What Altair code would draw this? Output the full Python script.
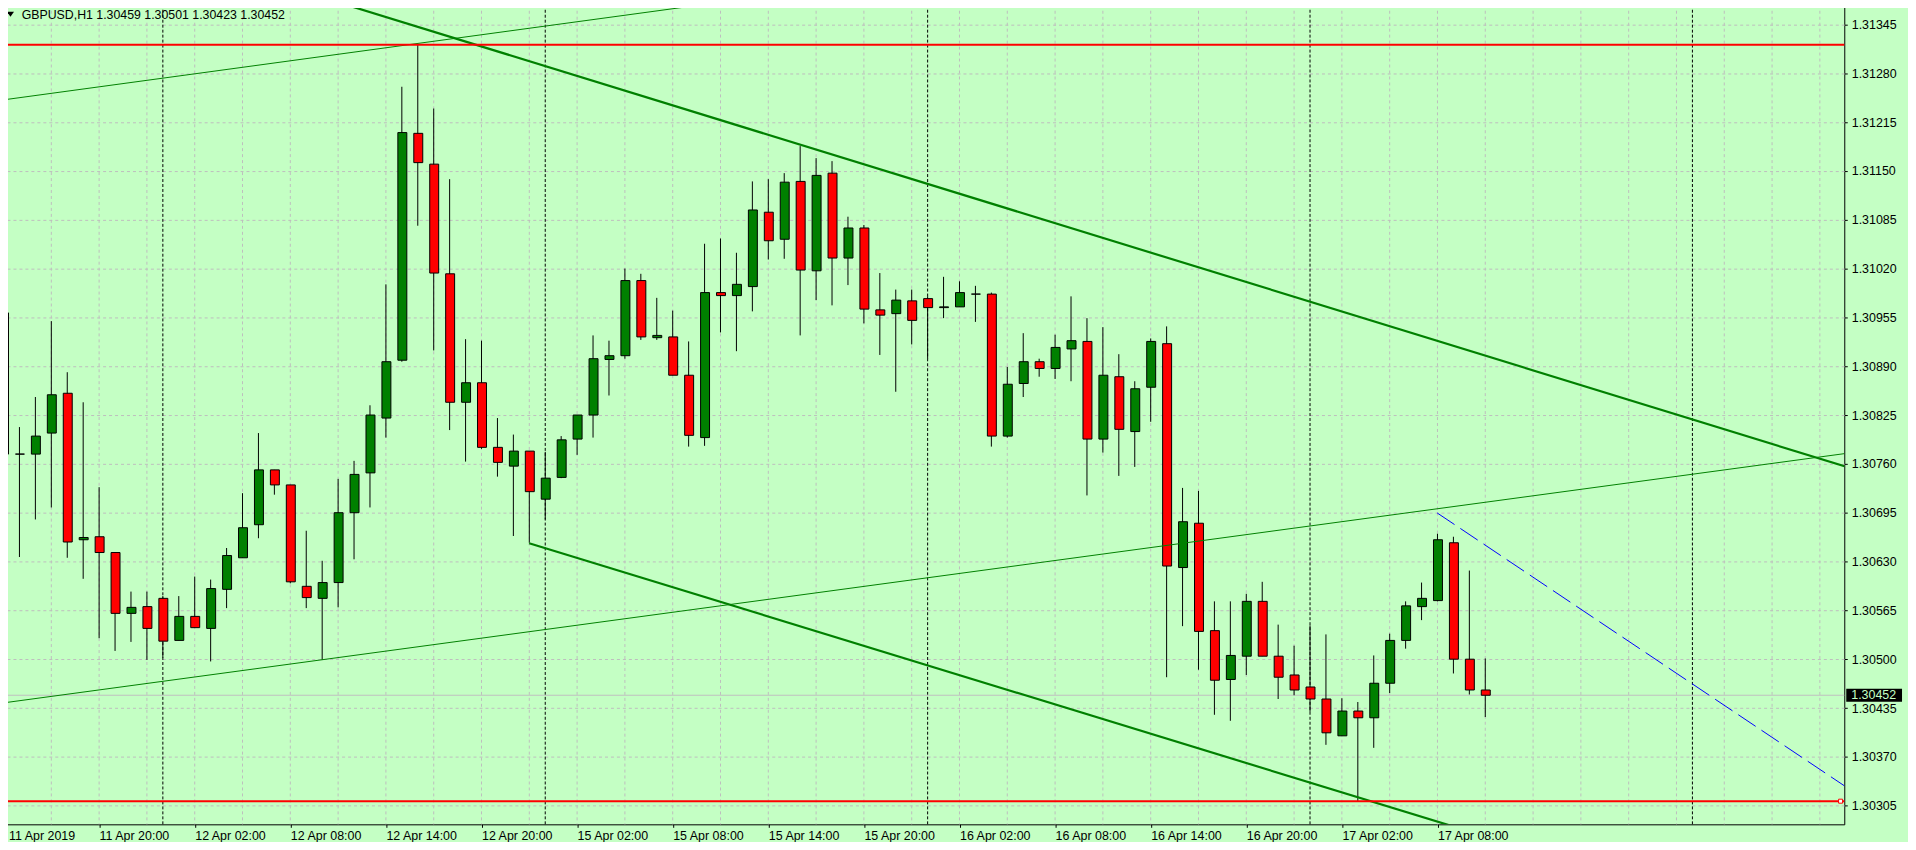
import json
import altair as alt
import pandas as pd

# ---------------- data ----------------
# H1 bars, bar 0 = 11 Apr 2019 14:00 (weekend bars skipped)
symbol = "GBPUSD"
timeframe = "H1"

opens = [1.30961, 1.30773, 1.30773, 1.30801, 1.30854, 1.30659, 1.30663, 1.30642, 1.30561, 1.30570,
         1.30581, 1.30525, 1.30557, 1.30541, 1.30593, 1.30635, 1.30679, 1.30752, 1.30732, 1.30597,
         1.30581, 1.30602, 1.30695, 1.30748, 1.30821, 1.30898, 1.31200, 1.31159, 1.31013, 1.30842,
         1.30868, 1.30782, 1.30757, 1.30777, 1.30713, 1.30742, 1.30793, 1.30825, 1.30899, 1.30904,
         1.31004, 1.30928, 1.30929, 1.30878, 1.30795, 1.30988, 1.30984, 1.30996, 1.31095, 1.31059,
         1.31136, 1.31017, 1.31147, 1.31034, 1.31074, 1.30965, 1.30960, 1.30977, 1.30980, 1.30968,
         1.30969, 1.30986, 1.30986, 1.30797, 1.30867, 1.30896, 1.30887, 1.30913, 1.30923, 1.30793,
         1.30876, 1.30803, 1.30862, 1.30920, 1.30622, 1.30681, 1.30538, 1.30473, 1.30504, 1.30577,
         1.30504, 1.30479, 1.30463, 1.30447, 1.30398, 1.30431, 1.30422, 1.30468, 1.30525, 1.30570,
         1.30578, 1.30655, 1.30500, 1.30459]
highs = [1.30980, 1.30809, 1.30849, 1.30950, 1.30882, 1.30842, 1.30729, 1.30642, 1.30590, 1.30590,
         1.30584, 1.30584, 1.30610, 1.30606, 1.30648, 1.30721, 1.30801, 1.30752, 1.30732, 1.30671,
         1.30631, 1.30740, 1.30764, 1.30838, 1.30999, 1.31262, 1.31318, 1.31233, 1.31139, 1.30926,
         1.30924, 1.30821, 1.30799, 1.30777, 1.30776, 1.30797, 1.30825, 1.30931, 1.30924, 1.31020,
         1.31013, 1.30981, 1.30964, 1.30923, 1.31053, 1.31060, 1.31041, 1.31136, 1.31139, 1.31147,
         1.31183, 1.31167, 1.31163, 1.31089, 1.31078, 1.31014, 1.30992, 1.30992, 1.30983, 1.31009,
         1.31003, 1.30997, 1.30988, 1.30889, 1.30934, 1.30900, 1.30932, 1.30983, 1.30954, 1.30942,
         1.30906, 1.30870, 1.30927, 1.30943, 1.30728, 1.30724, 1.30577, 1.30577, 1.30587, 1.30603,
         1.30546, 1.30518, 1.30545, 1.30533, 1.30448, 1.30443, 1.30505, 1.30534, 1.30577, 1.30602,
         1.30667, 1.30663, 1.30618, 1.30501]
lows = [1.30743, 1.30636, 1.30686, 1.30702, 1.30635, 1.30607, 1.30528, 1.30511, 1.30523, 1.30499,
        1.30502, 1.30525, 1.30542, 1.30497, 1.30568, 1.30635, 1.30661, 1.30719, 1.30601, 1.30568,
        1.30499, 1.30569, 1.30633, 1.30702, 1.30795, 1.30896, 1.31077, 1.30911, 1.30805, 1.30763,
        1.30780, 1.30743, 1.30664, 1.30655, 1.30686, 1.30741, 1.30772, 1.30795, 1.30851, 1.30900,
        1.30925, 1.30925, 1.30878, 1.30783, 1.30784, 1.30935, 1.30910, 1.30963, 1.31032, 1.31033,
        1.30931, 1.30978, 1.30971, 1.30998, 1.30947, 1.30905, 1.30856, 1.30919, 1.30900, 1.30954,
        1.30969, 1.30949, 1.30783, 1.30795, 1.30849, 1.30876, 1.30873, 1.30870, 1.30718, 1.30775,
        1.30744, 1.30756, 1.30816, 1.30476, 1.30544, 1.30486, 1.30426, 1.30418, 1.30479, 1.30504,
        1.30447, 1.30452, 1.30430, 1.30386, 1.30398, 1.30311, 1.30382, 1.30455, 1.30514, 1.30552,
        1.30577, 1.30481, 1.30453, 1.30423]
closes = [1.30773, 1.30773, 1.30797, 1.30852, 1.30656, 1.30662, 1.30642, 1.30561, 1.30569, 1.30541,
          1.30524, 1.30557, 1.30542, 1.30594, 1.30638, 1.30675, 1.30752, 1.30732, 1.30603, 1.30582,
          1.30602, 1.30695, 1.30746, 1.30825, 1.30896, 1.31201, 1.31161, 1.31014, 1.30842, 1.30868,
          1.30782, 1.30762, 1.30777, 1.30723, 1.30741, 1.30792, 1.30825, 1.30900, 1.30904, 1.31004,
          1.30929, 1.30931, 1.30878, 1.30798, 1.30988, 1.30984, 1.30999, 1.31098, 1.31057, 1.31135,
          1.31018, 1.31144, 1.31034, 1.31074, 1.30966, 1.30958, 1.30978, 1.30951, 1.30968, 1.30969,
          1.30988, 1.30986, 1.30797, 1.30866, 1.30896, 1.30887, 1.30915, 1.30924, 1.30793, 1.30878,
          1.30806, 1.30860, 1.30923, 1.30624, 1.30683, 1.30537, 1.30472, 1.30505, 1.30577, 1.30504,
          1.30476, 1.30459, 1.30447, 1.30402, 1.30431, 1.30422, 1.30468, 1.30525, 1.30571, 1.30581,
          1.30659, 1.30500, 1.30459, 1.30452]

# x-axis labels (bar index -> text)
tick_idx = [0, 6, 12, 18, 24, 30, 36, 42, 48, 54, 60, 66, 72, 78, 84, 90]
tick_labels = ["11 Apr 2019", "11 Apr 20:00", "12 Apr 02:00", "12 Apr 08:00", "12 Apr 14:00",
               "12 Apr 20:00", "15 Apr 02:00", "15 Apr 08:00", "15 Apr 14:00", "15 Apr 20:00",
               "16 Apr 02:00", "16 Apr 08:00", "16 Apr 14:00", "16 Apr 20:00", "17 Apr 02:00",
               "17 Apr 08:00"]
# price axis labels
price_ticks = [1.30305, 1.30370, 1.30435, 1.30500, 1.30565, 1.30630, 1.30695, 1.30760, 1.30825,
               1.30890, 1.30955, 1.31020, 1.31085, 1.31150, 1.31215, 1.31280, 1.31345]
# day separators (bar index of 00:00)
day_sep_idx = [10, 34, 58, 82, 106]
# chart grid, every 3 bars
grid_idx = list(range(0, 117, 3))

# drawn objects: (name, bar index, price)
trend_thin_name = ["up_top", "up_top", "up_bot", "up_bot"]
trend_thin_idx = [-0.23, 62.27, -0.23, 116.02]
trend_thin_price = [1.312439, 1.314244, 1.304412, 1.307750]
trend_thick_name = ["dn_top", "dn_top", "dn_bot", "dn_bot"]
trend_thick_idx = [21.0, 116.0, 32.99, 92.0]
trend_thick_price = [1.313744, 1.307538, 1.306544, 1.302708]
dash_idx = [89.98, 116.0]
dash_price = [1.306947, 1.303249]
hline_prices = [1.31318, 1.30311]
hline_marker_idx = [0.1, 115.3]
hline_marker_price = [1.30311, 1.30311]
bid_price = 1.30452

# ---------------- layout / style ----------------
W, H = 1849, 823
PX_PER_BAR = 16.0
PX_PER_PRICE = 75440.0
x0 = -0.03125
y0 = 1.302802
xs = alt.Scale(domain=[x0, x0 + W / PX_PER_BAR], nice=False, zero=False)
ys = alt.Scale(domain=[y0, y0 + H / PX_PER_PRICE], nice=False, zero=False)

BG = "#C4FFC4"
GRID = "#BDBDBD"
FONT = "Liberation Sans"

label_expr = f"{json.dumps(tick_labels)}[indexof({json.dumps(tick_idx)}, datum.value)]"
x_axis = alt.Axis(values=tick_idx, labelExpr=label_expr, title=None, grid=False, domain=False,
                  ticks=True, tickSize=3, tickColor="black", labelAlign="left",
                  labelBaseline="alphabetic", labelPadding=12, labelFlush=False,
                  labelOverlap=False, labelFontSize=12.5, labelFont=FONT, labelColor="black",
                  labelOffset={"condition": {"test": "datum.value === 0", "value": 5}, "value": 0},
                  orient="bottom")
y_axis = alt.Axis(values=price_ticks, format=".5f", title=None, grid=True, gridDash=[3, 3],
                  gridColor=GRID, gridWidth=1, domain=False, ticks=True, tickSize=3,
                  tickColor="black", labelAlign="left", labelBaseline="middle", labelPadding=4,
                  labelOverlap=False, labelBound=False, labelFlush=False, labelFontSize=12.5,
                  labelFont=FONT, labelColor="black", orient="right")

X = lambda f: alt.X(f, scale=xs, axis=x_axis)
Y = lambda f: alt.Y(f, scale=ys, axis=y_axis)

candles = pd.DataFrame({"idx": list(range(len(opens))), "open": opens, "high": highs,
                        "low": lows, "close": closes})
candles["dir"] = ["down" if c < o else "up" for o, c in zip(opens, closes)]

grid_df = pd.DataFrame({"g": grid_idx})
sep_df = pd.DataFrame({"s": day_sep_idx})
thin_df = pd.DataFrame({"name": trend_thin_name, "i": trend_thin_idx, "price": trend_thin_price})
thick_df = pd.DataFrame({"name": trend_thick_name, "i": trend_thick_idx, "price": trend_thick_price})
dash_df = pd.DataFrame({"i": dash_idx, "price": dash_price})
hline_df = pd.DataFrame({"price": hline_prices})
marker_df = pd.DataFrame({"i": hline_marker_idx, "price": hline_marker_price})
bid_df = pd.DataFrame({"price": [bid_price], "label": [f"{bid_price:.5f}"]})
hdr_df = pd.DataFrame({"t": [f"{symbol},{timeframe}  {opens[-1]:.5f} {highs[-1]:.5f} "
                             f"{lows[-1]:.5f} {closes[-1]:.5f}"]})

grid_layer = alt.Chart(grid_df).mark_rule(color=GRID, strokeDash=[3, 3], strokeWidth=1).encode(
    x=X("g:Q"))
sep_layer = alt.Chart(sep_df).mark_rule(color="black", strokeDash=[3, 2], strokeWidth=1).encode(
    x=X("s:Q"))
bid_line = alt.Chart(bid_df).mark_rule(color="#C0C0C0", strokeWidth=1).encode(y=Y("price:Q"))

wicks = alt.Chart(candles).mark_rule(color="black", strokeWidth=1, clip=True).encode(
    x=X("idx:Q"), y=Y("low:Q"), y2="high:Q")
bodies = alt.Chart(candles).transform_calculate(
    xa="datum.idx - 0.25", xb="datum.idx + 0.3125"
).mark_rect(stroke="black", strokeWidth=1, clip=True).encode(
    x=X("xa:Q"), x2="xb:Q", y=Y("open:Q"), y2="close:Q",
    fill=alt.Fill("dir:N", scale=alt.Scale(domain=["up", "down"], range=["#008000", "#FF0000"]),
                  legend=None))

thin_lines = alt.Chart(thin_df).mark_line(color="#008000", strokeWidth=1, clip=True).encode(
    x=X("i:Q"), y=Y("price:Q"), detail="name:N")
thick_lines = alt.Chart(thick_df).mark_line(color="#008000", strokeWidth=2.2, clip=True).encode(
    x=X("i:Q"), y=Y("price:Q"), detail="name:N")
dash_line = alt.Chart(dash_df).mark_line(color="#0000FF", strokeWidth=1, strokeDash=[21, 7],
                                          clip=True).encode(x=X("i:Q"), y=Y("price:Q"))
hlines = alt.Chart(hline_df).mark_rule(color="#FF0000", strokeWidth=2).encode(y=Y("price:Q"))
markers = alt.Chart(marker_df).mark_point(shape="square", filled=True, fill="white",
                                          stroke="#FF0000", strokeWidth=1, size=16,
                                          opacity=1).encode(x=X("i:Q"), y=Y("price:Q"))

box_path = "M -28 -6.5 L 28 -6.5 L 28 6.5 L -28 6.5 Z"
bid_box = alt.Chart(bid_df).mark_point(shape=box_path, size=4, filled=True, color="black",
                                        opacity=1).encode(x=alt.value(W + 30), y=Y("price:Q"))
bid_text = alt.Chart(bid_df).mark_text(align="left", baseline="middle", fontSize=12.5, font=FONT,
                                        color=BG).encode(x=alt.value(W + 7), y=Y("price:Q"),
                                                         text="label:N")

tri_path = "M -3.5 -2.5 L 3.5 -2.5 L 0 2.5 Z"
hdr_tri = alt.Chart(hdr_df).mark_point(shape=tri_path, size=4, filled=True, color="black",
                                        opacity=1).encode(x=alt.value(7.5), y=alt.value(9.5))
hdr_text = alt.Chart(hdr_df).mark_text(align="left", baseline="alphabetic", fontSize=12.4,
                                        font=FONT, color="black").encode(
    x=alt.value(18.7), y=alt.value(14.3), text="t:N")

chart = alt.layer(
    grid_layer, sep_layer, bid_line, wicks, bodies, thin_lines, thick_lines, dash_line,
    hlines, markers, bid_box, bid_text, hdr_tri, hdr_text
).properties(
    width=W, height=H,
    padding={"left": -5, "top": -5, "right": 64, "bottom": 16},
    autosize=alt.AutoSizeParams(type="none"),
    background=BG,
).configure_view(
    fill=BG, stroke="black", strokeWidth=1
)

chart.save("out.html", embed_options={"renderer": "svg", "actions": False})
